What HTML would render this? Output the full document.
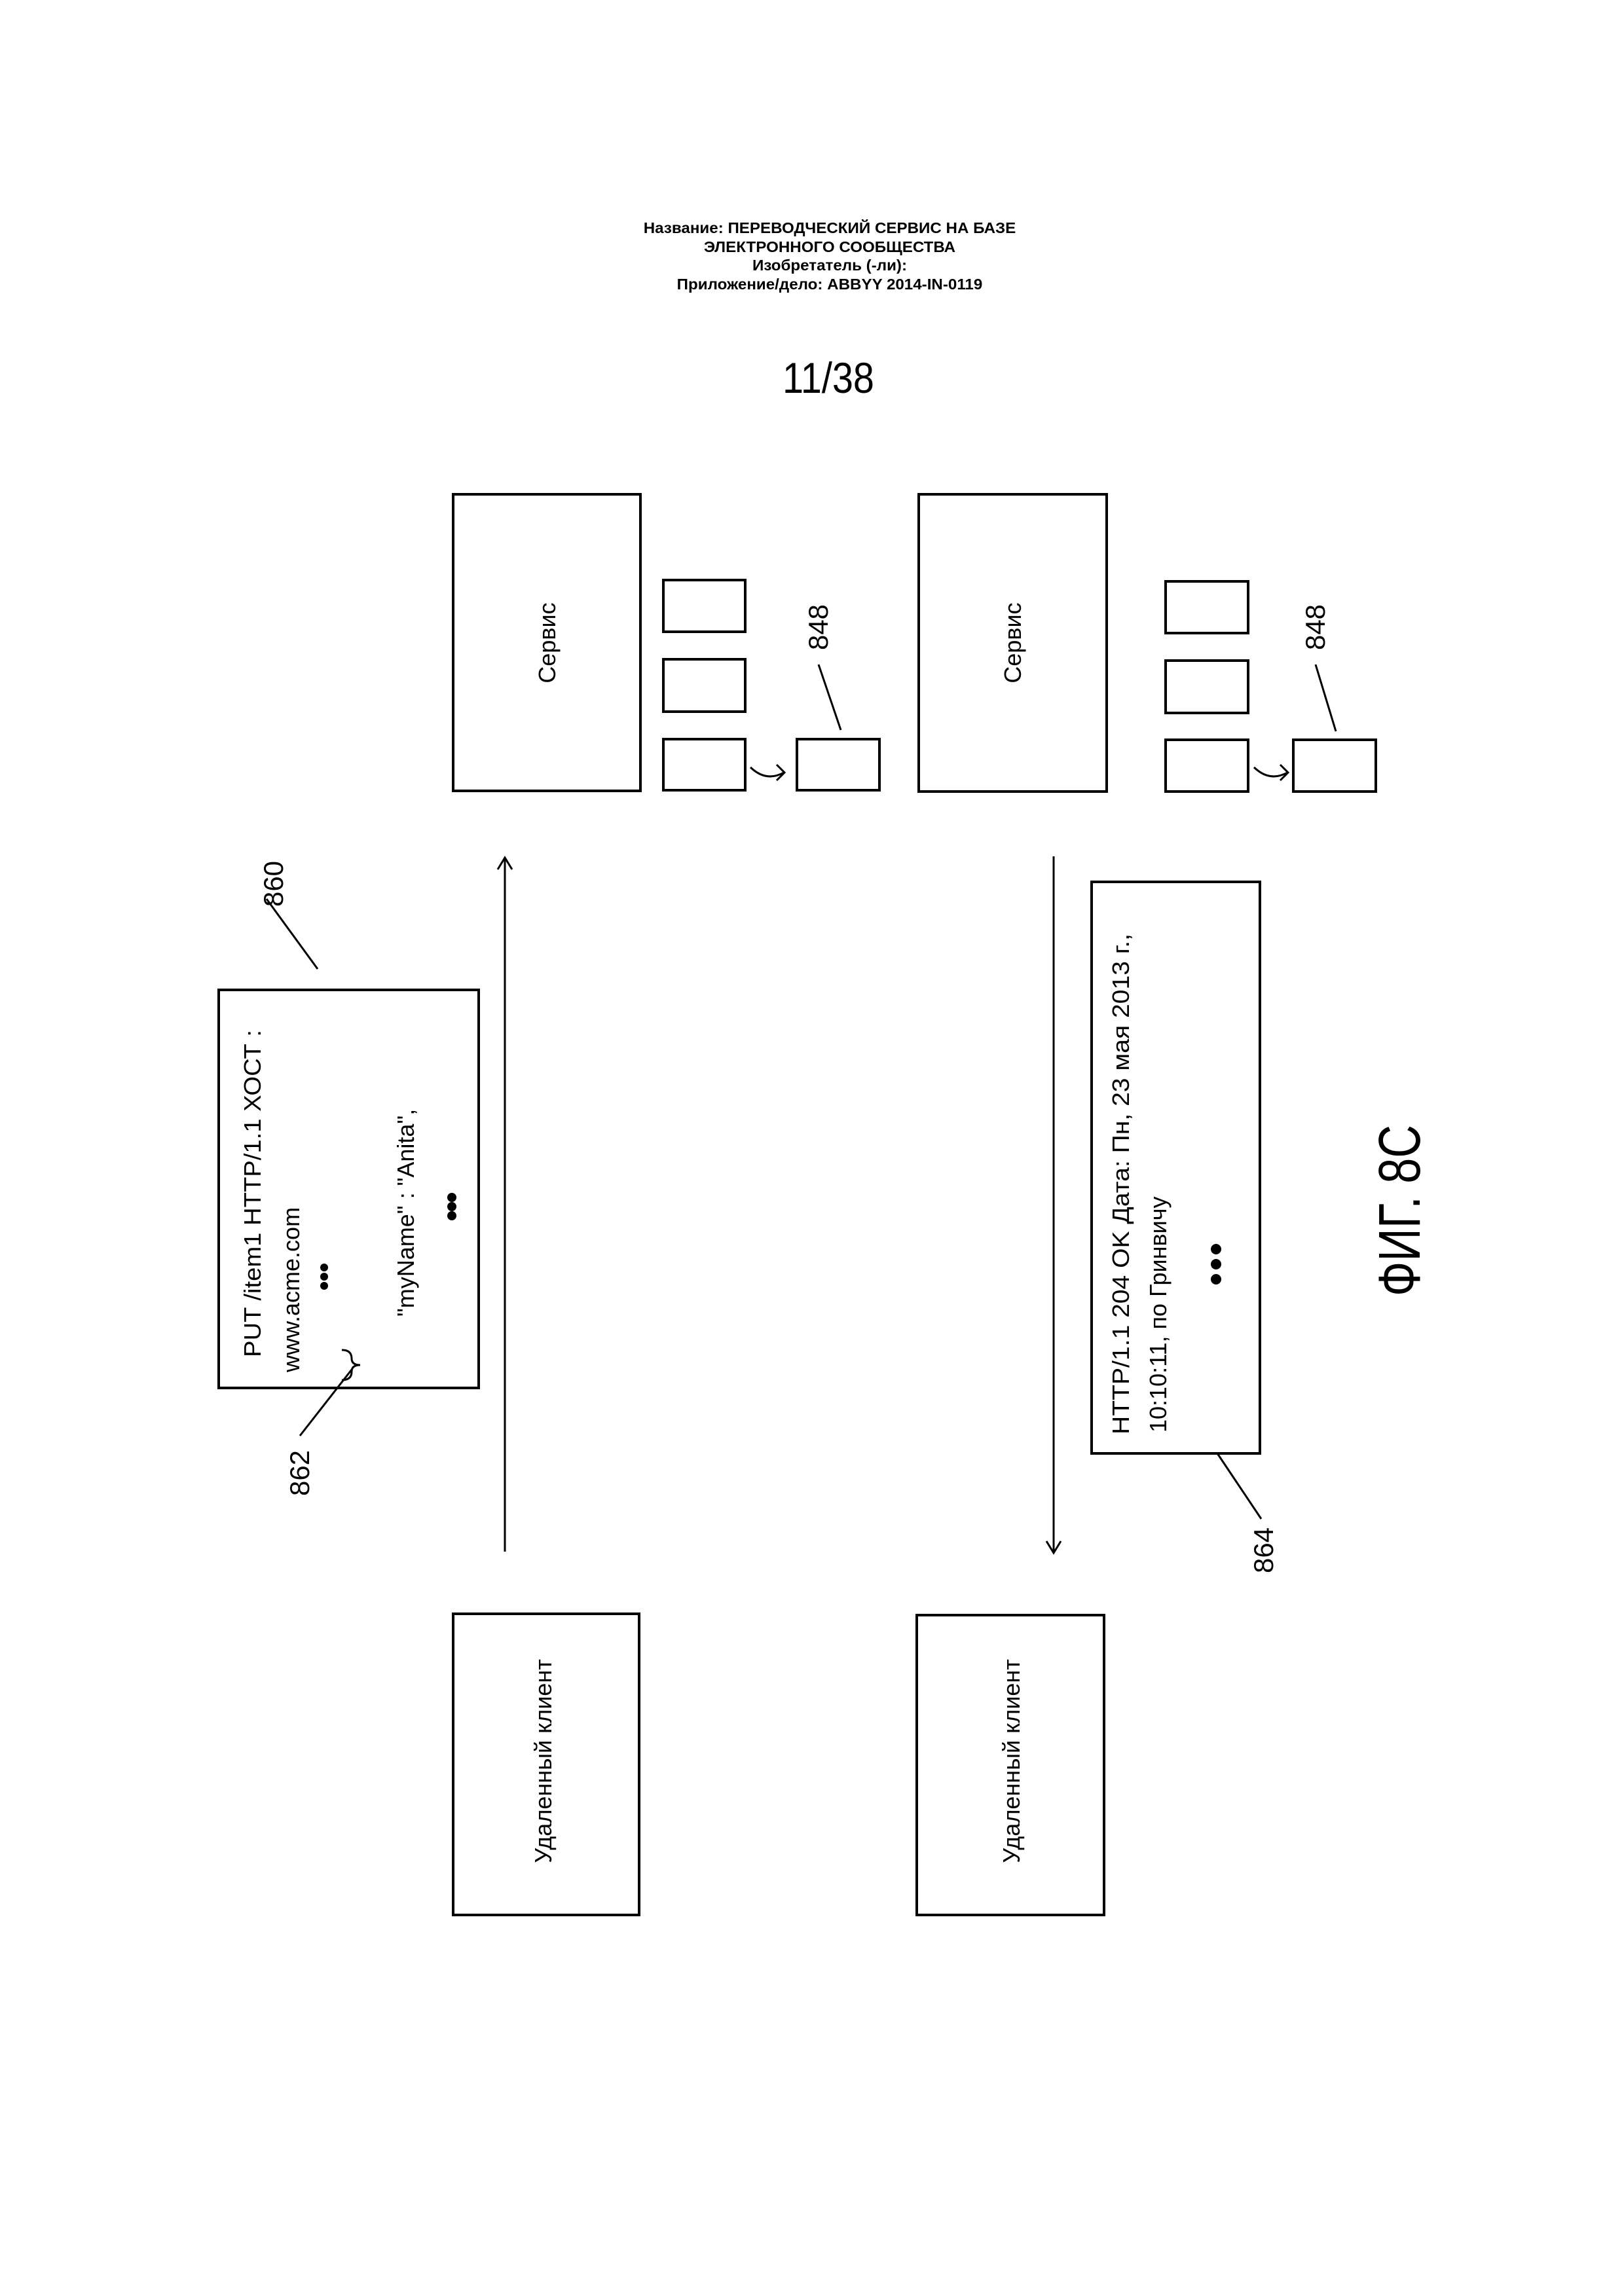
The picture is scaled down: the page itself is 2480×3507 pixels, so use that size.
<!DOCTYPE html>
<html><head><meta charset="utf-8"><style>
html,body{margin:0;padding:0;background:#fff;}
svg{display:block;}
text{font-family:"Liberation Sans",Arial,sans-serif;fill:#000;}
</style></head><body>
<svg width="2480" height="3507" viewBox="0 0 2480 3507" xmlns="http://www.w3.org/2000/svg">
<g text-anchor="middle" font-size="23" font-weight="bold" transform="translate(1267,0) scale(1.05,1) translate(-1267,0)">
<text x="1267" y="356">Название: ПЕРЕВОДЧЕСКИЙ СЕРВИС НА БАЗЕ</text>
<text x="1267" y="385">ЭЛЕКТРОННОГО СООБЩЕСТВА</text>
<text x="1267" y="413">Изобретатель (-ли):</text>
<text x="1267" y="442">Приложение/дело: ABBYY 2014-IN-0119</text>
</g>
<text x="1265" y="600" font-size="66" text-anchor="middle" textLength="140" lengthAdjust="spacingAndGlyphs">11/38</text>

<g fill="none" stroke="#000" stroke-width="4">
<rect x="692" y="755" width="286" height="453"/>
<rect x="1403" y="755" width="287" height="454"/>
<rect x="1013" y="886" width="125" height="79"/>
<rect x="1013" y="1007" width="125" height="80"/>
<rect x="1013" y="1129" width="125" height="78"/>
<rect x="1217" y="1129" width="126" height="78"/>
<rect x="1780" y="888" width="126" height="79"/>
<rect x="1780" y="1009" width="126" height="80"/>
<rect x="1780" y="1130" width="126" height="79"/>
<rect x="1975" y="1130" width="126" height="79"/>
<rect x="334" y="1512" width="397" height="608"/>
<rect x="1667" y="1347" width="257" height="873"/>
<rect x="692" y="2465" width="284" height="460"/>
<rect x="1400" y="2467" width="286" height="458"/>
</g>
<g fill="none" stroke="#000" stroke-width="3">
<path d="M1146 1172 Q1170 1195 1197 1180"/><path d="M1186 1168 L1198 1180 L1186 1192"/>
<path d="M1915 1172 Q1939 1195 1966 1180"/><path d="M1955 1168 L1967 1180 L1955 1192"/>
<line x1="1250" y1="1015" x2="1284" y2="1115"/>
<line x1="2009" y1="1015" x2="2040" y2="1117"/>
<line x1="771" y1="2370" x2="771" y2="1310"/><path d="M760 1328 L771 1310 L782 1328"/>
<line x1="1609" y1="1308" x2="1609" y2="2372"/><path d="M1598 2354 L1609 2372 L1620 2354"/>
<line x1="407" y1="1373" x2="485" y2="1480"/>
<line x1="537" y1="2092" x2="458" y2="2193"/>
<line x1="1859" y1="2220" x2="1926" y2="2320"/>
<path d="M522 2062 Q537 2062 537 2075 Q537 2085 550 2085 Q537 2085 537 2095 Q537 2108 522 2108"/>
</g>

<g font-size="36" text-anchor="middle">
<text transform="translate(848,982) rotate(-90)">Сервис</text>
<text transform="translate(1559,982) rotate(-90)">Сервис</text>
<text transform="translate(842,2690) rotate(-90)">Удаленный клиент</text>
<text transform="translate(1557,2690) rotate(-90)">Удаленный клиент</text>
</g>
<g font-size="42" text-anchor="middle">
<text transform="translate(1264,958) rotate(-90)">848</text>
<text transform="translate(2023,958) rotate(-90)">848</text>
<text transform="translate(432,1350) rotate(-90)">860</text>
<text transform="translate(472,2250) rotate(-90)">862</text>
<text transform="translate(1944,2368) rotate(-90)">864</text>
</g>
<g font-size="36">
<text transform="translate(398,2073) rotate(-90)" textLength="500" lengthAdjust="spacingAndGlyphs">PUT /item1 HTTP/1.1 ХОСТ :</text>
<text transform="translate(457,2096) rotate(-90)">www.acme.com</text>
<text transform="translate(632,2011) rotate(-90)">"myName" : "Anita",</text>
<text transform="translate(1724,2191) rotate(-90)" textLength="765" lengthAdjust="spacingAndGlyphs">HTTP/1.1 204 OK Дата:  Пн, 23 мая 2013 г.,</text>
<text transform="translate(1781,2188) rotate(-90)">10:10:11, по Гринвичу</text>
</g>
<g fill="#000">
<circle cx="495" cy="1936" r="6"/><circle cx="495" cy="1950" r="6"/><circle cx="495" cy="1964" r="6"/>
<circle cx="690" cy="1829" r="7"/><circle cx="690" cy="1843" r="7"/><circle cx="690" cy="1857" r="7"/>
<circle cx="1857" cy="1908" r="8"/><circle cx="1857" cy="1931" r="8"/><circle cx="1857" cy="1954" r="8"/>
</g>
<text transform="translate(2168,1980) rotate(-90)" font-size="90" textLength="262" lengthAdjust="spacingAndGlyphs">ФИГ. 8С</text>
</svg>
</body></html>
